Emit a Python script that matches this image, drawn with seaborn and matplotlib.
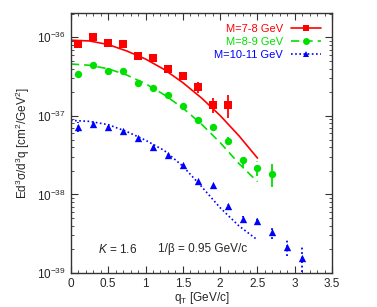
import numpy as np
import pandas as pd
import matplotlib
matplotlib.use("Agg")
import matplotlib.pyplot as plt
import seaborn as sns
from matplotlib.lines import Line2D
from matplotlib.ticker import LogLocator, MultipleLocator, NullFormatter, FixedLocator, FuncFormatter

# ---- data ----
qt_red = [0.1, 0.3, 0.5, 0.7, 0.9, 1.1, 1.3, 1.5, 1.7, 1.9, 2.1]
y_red = [8.24e-37, 1.0e-36, 8.5e-37, 8.3e-37, 5.85e-37, 5.5e-37, 4.0e-37, 3.2e-37, 2.33e-37, 1.38e-37, 1.38e-37]
e_red = [1.0e-37, 4e-38, 3e-38, 3e-38, 2.5e-38, 2.5e-38, 2.5e-38, 3e-38, 4e-38, 3e-38, 4.5e-38]

qt_green = [0.1, 0.3, 0.5, 0.7, 0.9, 1.1, 1.3, 1.5, 1.7, 1.9, 2.1, 2.3, 2.5, 2.7]
y_green = [3.42e-37, 4.49e-37, 3.77e-37, 3.77e-37, 2.65e-37, 2.27e-37, 1.82e-37, 1.32e-37,
           8.87e-38, 7.22e-38, 4.83e-38, 2.71e-38, 2.17e-38, 1.84e-38]
e_green = [1e-38, 1.2e-38, 1e-38, 1e-38, 8e-39, 7e-39, 6e-39, 5e-39, 4e-39, 4e-39, 6e-39, 5e-39, 4.6e-39, 6e-39]

qt_blue = [0.1, 0.3, 0.5, 0.7, 0.9, 1.1, 1.3, 1.5, 1.7, 1.9, 2.1, 2.3, 2.5, 2.7, 2.9, 3.1]
y_blue = [7.28e-38, 7.96e-38, 7.28e-38, 6.43e-38, 5.17e-38, 4.02e-38, 3.21e-38, 2.39e-38,
          1.47e-38, 1.32e-38, 7.04e-39, 4.9e-39, 4.62e-39, 3.32e-39, 2.14e-39, 1.57e-39]
e_blue = [1e-38, 4e-39, 3e-39, 3e-39, 2e-39, 1.5e-39, 1.2e-39, 1e-39,
          8e-40, 8e-40, 5e-40, 4e-40, 6e-40, 6e-40, 5e-40, 5.5e-40]

# model curves (read at 0.25 GeV/c steps)
qt_curve = [0.0, 0.25, 0.5, 0.75, 1.0, 1.25, 1.5, 1.75, 2.0, 2.25, 2.5]
fit_red = [9.2e-37, 9.0e-37, 8.1e-37, 6.7e-37, 5.3e-37, 3.9e-37, 2.65e-37, 1.69e-37, 1.01e-37, 5.6e-38, 2.9e-38]
fit_green = [4.58e-37, 4.41e-37, 3.98e-37, 3.31e-37, 2.57e-37, 1.86e-37, 1.26e-37, 7.85e-38, 4.57e-38, 2.48e-38, 1.45e-38]
fit_blue = [8.77e-38, 8.51e-38, 7.73e-38, 6.31e-38, 4.9e-38, 3.63e-38, 2.29e-38, 1.26e-38, 6.76e-39, 3.98e-39, 2.63e-39]

labels = ["M=7-8 GeV", "M=8-9 GeV", "M=10-11 GeV"]
colors = ["#ff0000", "#00e000", "#0000ff"]
markers = ["s", "o", "^"]
lstyles = ["-", (0, (5, 3)), (0, (1, 1.5))]

sns.set_style("ticks")
plt.rcParams['font.family'] = ['Liberation Sans', 'DejaVu Sans']
plt.rcParams['mathtext.fontset'] = 'custom'
plt.rcParams['mathtext.rm'] = 'Liberation Sans'
plt.rcParams['mathtext.it'] = 'Liberation Sans:italic'

fig = plt.figure(figsize=(3.77, 3.07), dpi=100)
ax = fig.add_axes([0.188, 0.111, 0.693, 0.847])

datasets = [(qt_red, y_red, e_red, fit_red), (qt_green, y_green, e_green, fit_green),
            (qt_blue, y_blue, e_blue, fit_blue)]
handles = []
for (x, y, e, fit), lab, c, m, ls in zip(datasets, labels, colors, markers, lstyles):
    dfc = pd.DataFrame({"q": qt_curve, "v": fit})
    sns.lineplot(data=dfc, x="q", y="v", ax=ax, color=c, linewidth=1.2, linestyle=ls, legend=False)
    ebar = ax.errorbar(x, y, yerr=e, fmt="none", ecolor=c, elinewidth=1.3, capsize=0)
    ebar[2][0].set_linestyle(ls)
    dfp = pd.DataFrame({"q": x, "v": y})
    sns.scatterplot(data=dfp, x="q", y="v", ax=ax, color=c, marker=m, s=28,
                    edgecolor=c, linewidth=0, legend=False, zorder=5)
    handles.append(Line2D([0], [0], color=c, linestyle=ls, linewidth=1.2, marker=m,
                          markersize=5, markeredgewidth=0))

ax.set_yscale("log")
ax.set_xlim(0, 3.5)
ax.set_ylim(1e-39, 2.05e-36)
ax.xaxis.set_major_locator(MultipleLocator(0.5))
ax.xaxis.set_minor_locator(MultipleLocator(0.1))
ax.xaxis.set_major_formatter(FuncFormatter(lambda v, p: "%g" % round(v, 2)))
ax.yaxis.set_major_locator(FixedLocator([1e-39, 1e-38, 1e-37, 1e-36]))
ax.yaxis.set_major_formatter(FuncFormatter(lambda v, p: "10$^{%d}$" % int(round(np.log10(v)))))
ax.yaxis.set_minor_locator(LogLocator(base=10, subs=np.arange(2, 10)))
ax.yaxis.set_minor_formatter(NullFormatter())
ax.set_xlim(0, 3.5)
ax.tick_params(which="both", direction="in", top=True, right=True, labelsize=8.5, color="#333333")
ax.tick_params(which="major", length=5, width=0.8)
ax.tick_params(which="minor", length=2.5, width=0.6)
for sp in ax.spines.values():
    sp.set_linewidth(1.0)
    sp.set_color("#333333")

ax.set_xlabel("q$_\\mathrm{T}$ [GeV/c]", fontsize=8.5, labelpad=0)
ax.set_ylabel("Ed$^3$σ/d$^3$q [cm$^2$/GeV$^2$]", fontsize=8.5, labelpad=4)

leg = ax.legend(handles, labels, loc="upper right", frameon=False, markerfirst=False,
                fontsize=8, handlelength=2.7, handletextpad=0.7, labelspacing=0.25,
                borderaxespad=0.7, borderpad=0.3)
for t, c in zip(leg.get_texts(), colors):
    t.set_color(c)

ax.text(0.37, 2.0e-39, "$K$ = 1.6", fontsize=8.5, ha="left", va="center")
ax.text(1.17, 2.0e-39, "1/β = 0.95 GeV/c", fontsize=8.5, ha="left", va="center")

fig.savefig("out.png", dpi=100)
